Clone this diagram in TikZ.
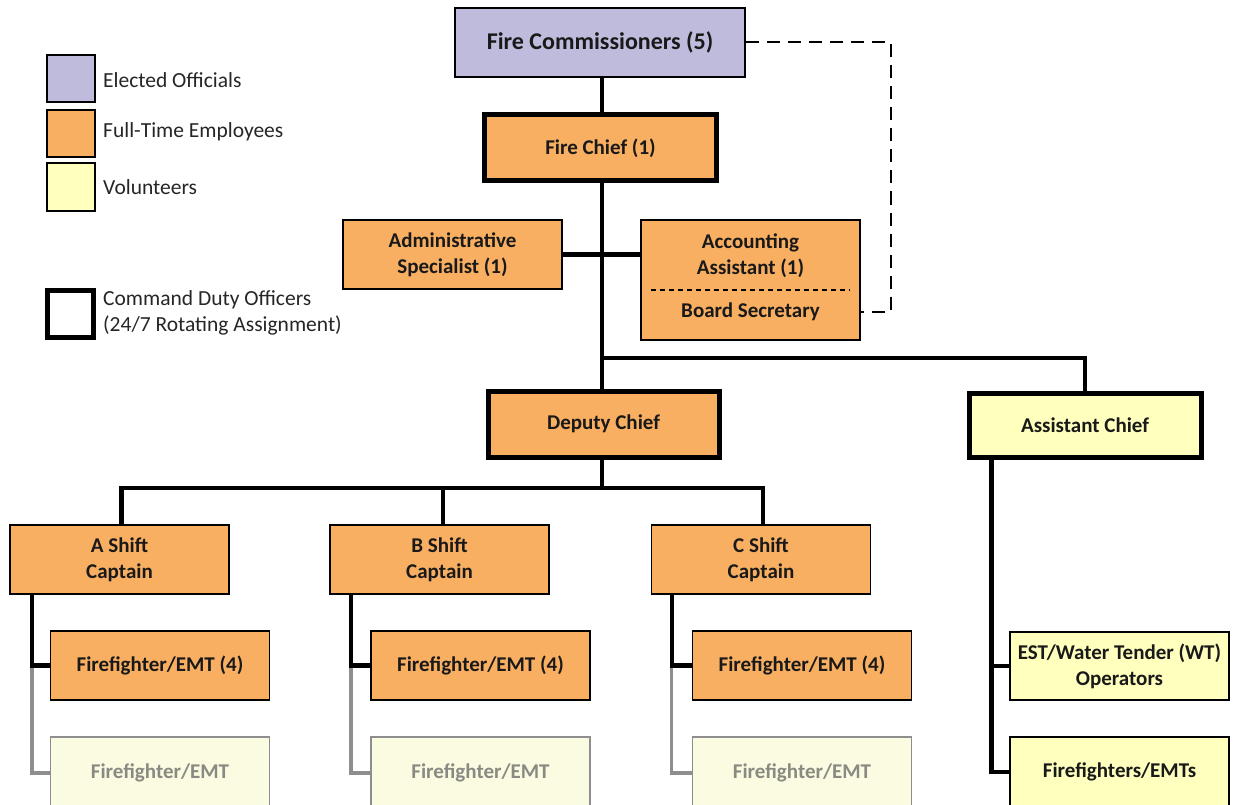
\documentclass[tikz,border=0pt]{standalone}
\usepackage{fontspec}
\setmainfont{Carlito}
\definecolor{elect}{HTML}{BEBBDC}
\definecolor{fulltime}{HTML}{F9AF62}
\definecolor{vol}{HTML}{FFFFBE}
\definecolor{volfade}{HTML}{FBFBE2}
\definecolor{fadeline}{HTML}{8E8E8E}
\definecolor{fadetext}{HTML}{8A8A82}
\tikzset{
  boxbase/.style={draw=black, line width=1.6pt, inner sep=0pt, align=center,
    font=\fontsize{21}{26}\selectfont\bfseries, text=black!90},
  cdo/.style={line width=5pt},
  ftbox/.style={boxbase, fill=fulltime},
  volbox/.style={boxbase, fill=vol},
  fadebox/.style={boxbase, fill=volfade, draw=fadeline, text=fadetext},
  conn/.style={line width=4.4pt},
  fadeconn/.style={line width=3.5pt, draw=fadeline},
  legsq/.style={draw=black, line width=2pt, minimum width=48pt, minimum height=47pt, inner sep=0pt},
  legtxt/.style={anchor=west, inner sep=0pt, align=left, font=\fontsize{21.5}{26}\selectfont, text=black!85},
}
\begin{document}
\begin{tikzpicture}[x=1pt,y=-1pt]
\useasboundingbox[fill=white] (0,0) rectangle (1233,805);

% legend
\node[legsq, fill=elect] (lg1) at (70.5,79) {};
\node[legsq, fill=fulltime] (lg2) at (70.5,133.5) {};
\node[legsq, fill=vol] (lg3) at (70.5,187) {};
\node[legsq, line width=5pt, fill=white, minimum width=46pt, minimum height=47pt] (lg4) at (70.5,314) {};
\node[legtxt] (lt1) at (103,80) {Elected Officials};
\node[legtxt] (lt2) at (103,132) {Full-Time Employees};
\node[legtxt] (lt3) at (103,187) {Volunteers};
\node[legtxt] (lt4) at (103,313) {Command Duty Officers\\(24/7 Rotating Assignment)};

% top
\node[boxbase, fill=elect, minimum width=290pt, minimum height=69pt,
  font=\fontsize{24}{28}\selectfont\bfseries] (comm) at (600,42.5) {Fire Commissioners (5)};
\node[ftbox, cdo, minimum width=232pt, minimum height=66pt] (chief) at (600.5,148) {Fire Chief (1)};
\node[ftbox, minimum width=219pt, minimum height=69pt] (admin) at (452.5,254.5) {Administrative\\Specialist (1)};
\node[ftbox, minimum width=219pt, minimum height=120pt] (acct) at (750.5,280) {};
\node[inner sep=0pt, align=center, font=\fontsize{21}{26}\selectfont\bfseries, text=black!90] (acctt) at (750.5,256) {Accounting\\Assistant (1)};
\node[inner sep=0pt, font=\fontsize{21}{26}\selectfont\bfseries, text=black!90] (bsec) at (750.5,312) {Board Secretary};
\draw[line width=2pt, dash pattern=on 5pt off 4pt] ([xshift=11pt]acct.west |- 0,290) coordinate (dl1) -- ([xshift=-11pt]acct.east |- 0,290) coordinate (dl2);

% middle
\node[ftbox, cdo, minimum width=231pt, minimum height=66pt] (deputy) at (603.5,424) {Deputy Chief};
\node[volbox, cdo, minimum width=232pt, minimum height=64pt] (asst) at (1085,425) {Assistant Chief};

% captains
\node[ftbox, minimum width=219pt, minimum height=69pt] (capA) at (119.5,559.5) {A Shift\\Captain};
\node[ftbox, minimum width=219pt, minimum height=69pt] (capB) at (439.5,559.5) {B Shift\\Captain};
\node[ftbox, minimum width=219pt, minimum height=69pt] (capC) at (761,559.5) {C Shift\\Captain};

% firefighters
\node[ftbox, minimum width=219pt, minimum height=69pt] (ffA) at (160,665.5) {Firefighter/EMT (4)};
\node[ftbox, minimum width=219pt, minimum height=69pt] (ffB) at (480.5,665.5) {Firefighter/EMT (4)};
\node[ftbox, minimum width=219pt, minimum height=69pt] (ffC) at (802,665.5) {Firefighter/EMT (4)};
\node[fadebox, minimum width=219pt, minimum height=72pt] (vA) at (160,773) {Firefighter/EMT};
\node[fadebox, minimum width=219pt, minimum height=72pt] (vB) at (480.5,773) {Firefighter/EMT};
\node[fadebox, minimum width=219pt, minimum height=72pt] (vC) at (802,773) {Firefighter/EMT};

% volunteers column
\node[volbox, minimum width=219pt, minimum height=68pt] (est) at (1119.5,666) {EST/Water Tender (WT)\\Operators};
\node[volbox, minimum width=219pt, minimum height=70pt] (vff) at (1119.5,772) {Firefighters/EMTs};

% connectors
\coordinate (j1) at (602,358);
\coordinate (j2) at (602,488);
\draw[conn] (comm.south -| 602,0) -- (chief.north -| 602,0);
\draw[conn] (chief.south -| 602,0) -- (deputy.north -| 602,0);
\draw[conn] (admin.east) -- (admin.east -| acct.west);
\draw[conn] (j1) -| (asst.north);
\draw[conn] (deputy.south -| j2) -- (j2);
\draw[conn] ([xshift=2pt]capA.north) |- (j2) -| ([xshift=2pt]capC.north);
\draw[conn] (j2 -| 443,0) -- ([xshift=3.5pt]capB.north);

\draw[fadeconn] ([xshift=23pt]capA.south west |- ffA.west) |- (vA.west);
\draw[fadeconn] ([xshift=22pt]capB.south west |- ffB.west) |- (vB.west);
\draw[fadeconn] ([xshift=21pt]capC.south west |- ffC.west) |- (vC.west);
\draw[conn] ([xshift=23pt]capA.south west) |- (ffA.west);
\draw[conn] ([xshift=22pt]capB.south west) |- (ffB.west);
\draw[conn] ([xshift=21pt]capC.south west) |- (ffC.west);

\draw[conn] ([xshift=25pt]asst.south west) |- (est.west);
\draw[conn] ([xshift=25pt]asst.south west |- est.west) |- (vff.west);

\draw[line width=2pt, dash pattern=on 13pt off 8pt] (comm.east) -- ++(145,0) |- (acct.east |- bsec);
\end{tikzpicture}
\end{document}
